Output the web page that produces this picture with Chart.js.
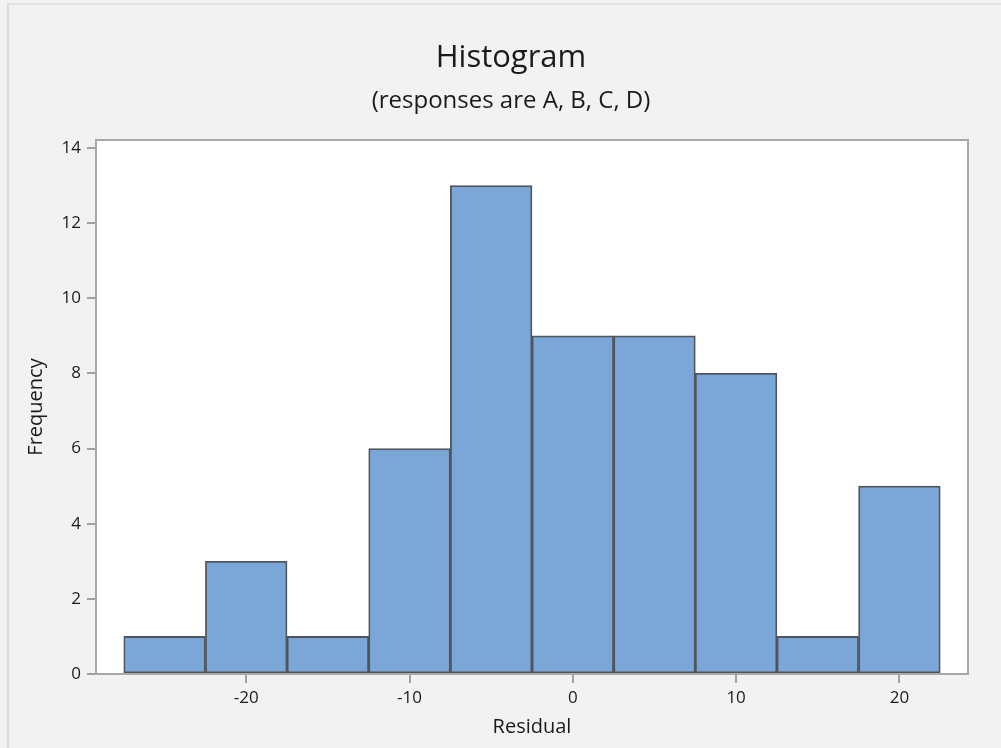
<!DOCTYPE html>
<html>
<head>
<meta charset="utf-8">
<script src="https://cdn.jsdelivr.net/npm/chart.js@4"></script>
<style>
  html,body{margin:0;padding:0;background:#f2f2f2}
  #wrap{position:relative;width:1001px;height:748px;overflow:hidden}
  #frame{position:absolute;left:7px;top:3px;width:1000px;height:760px;border-left:2px solid #dcdcdc;border-top:2px solid #e2e2e2;pointer-events:none}
  canvas{position:absolute;left:0;top:0}
</style>
</head>
<body>
<div id="wrap">
  <canvas id="hist" width="1001" height="748"></canvas>
  <div id="frame"></div>
</div>
<script>
const binCenters = [-25, -20, -15, -10, -5, 0, 5, 10, 15, 20];
const frequencies = [1, 3, 1, 6, 13, 9, 9, 8, 1, 5];
const xTicks = [-20, -10, 0, 10, 20];
const yTicks = [0, 2, 4, 6, 8, 10, 12, 14];

const fontFam = '"Open Sans", "Noto Sans", sans-serif';

// moldura da área do gráfico
const plotFrame = {
  id: 'plotFrame',
  afterDatasetsDraw(chart){
    const {ctx, chartArea:a} = chart;
    ctx.save();
    ctx.strokeStyle = '#a8a8a8';
    ctx.lineWidth = 2;
    ctx.strokeRect(a.left, a.top, a.right - a.left, a.bottom - a.top);
    ctx.restore();
  }
};

// fundo branco só dentro da área
const plotBg = {
  id: 'plotBg',
  beforeDraw(chart){
    const {ctx, chartArea:a} = chart;
    ctx.save();
    ctx.fillStyle = '#ffffff';
    ctx.fillRect(a.left, a.top, a.right - a.left, a.bottom - a.top);
    ctx.restore();
  }
};

new Chart(document.getElementById('hist').getContext('2d'), {
  type: 'bar',
  data: {
    datasets: [{
      data: binCenters.map((x, i) => ({x: x, y: frequencies[i]})),
      backgroundColor: '#7ba6d8',
      borderColor: '#50555b',
      borderWidth: 1.8,
      borderSkipped: false,
      barPercentage: 1,
      categoryPercentage: 1
    }]
  },
  options: {
    responsive: false,
    animation: false,
    layout: {padding: {left: 21, right: 0, top: 0, bottom: 0}},
    plugins: {
      legend: {display: false},
      tooltip: {enabled: false},
      title: {
        display: true, text: 'Histogram', color: '#1a1a1a',
        font: {family: fontFam, size: 31, weight: 'normal'},
        padding: {top: 40, bottom: 0}
      },
      subtitle: {
        display: true, text: '(responses are A, B, C, D)', color: '#1a1a1a',
        font: {family: fontFam, size: 24, weight: 'normal'},
        padding: {top: 10, bottom: 24}
      }
    },
    scales: {
      x: {
        type: 'linear', min: -29.2, max: 24.2, offset: false,
        afterBuildTicks: s => { s.ticks = xTicks.map(v => ({value: v})); },
        afterFit: s => { s.height = 748 - 674; },
        grid: {offset: false, drawOnChartArea: false, drawTicks: true, tickLength: 9, color: '#a0a0a0', lineWidth: 2},
        border: {display: false},
        ticks: {color: '#1a1a1a', font: {family: fontFam, size: 17}, padding: 5, maxRotation: 0},
        title: {display: true, text: 'Residual', color: '#1a1a1a', font: {family: fontFam, size: 20}, padding: {top: 9, bottom: 9}}
      },
      y: {
        min: 0, max: 14.21,
        afterBuildTicks: s => { s.ticks = yTicks.map(v => ({value: v})); },
        afterFit: s => { s.width = 75; },
        grid: {drawOnChartArea: false, drawTicks: true, tickLength: 9, color: '#a0a0a0', lineWidth: 2},
        border: {display: false},
        ticks: {color: '#1a1a1a', font: {family: fontFam, size: 17}, padding: 6},
        title: {display: true, text: 'Frequency', color: '#1a1a1a', font: {family: fontFam, size: 20}, padding: {top: 3, bottom: 0}}
      },
      // eixo vazio à direita só para reservar a margem
      yRight: {
        position: 'right', min: 0, max: 1,
        afterFit: s => { s.width = 33; },
        grid: {display: false},
        border: {display: false},
        ticks: {display: false}
      }
    }
  },
  plugins: [plotBg, plotFrame]
});
</script>
</body>
</html>
